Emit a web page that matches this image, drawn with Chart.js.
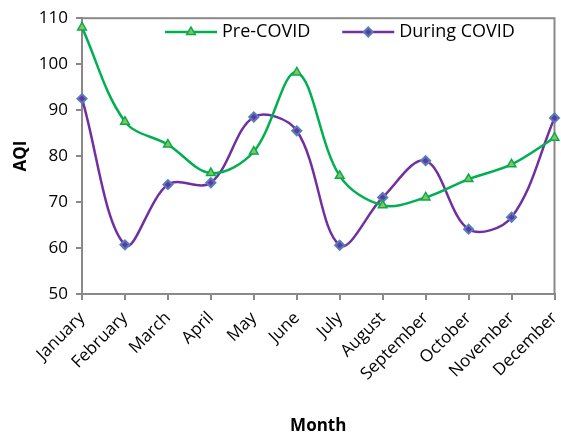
<!DOCTYPE html>
<html>
<head>
<meta charset="utf-8">
<script src="https://cdn.jsdelivr.net/npm/chart.js@4/dist/chart.umd.min.js"></script>
<style>
  html, body { margin: 0; padding: 0; background: #fff; }
  #wrap { width: 561px; height: 436px; position: relative; }
</style>
</head>
<body>
<div id="wrap"><canvas id="aqiChart"></canvas></div>
<script>
const months = ["January", "February", "March", "April", "May", "June",
  "July", "August", "September", "October", "November", "December"];
const preCovid = [108, 87.5, 82.5, 76.3, 81, 98.2, 75.7, 69.3, 71, 75, 78.2, 84];
const duringCovid = [92.5, 60.7, 73.8, 74.2, 88.5, 85.5, 60.6, 71, 79, 64.1, 66.7, 88.3];
const yTicks = [50, 60, 70, 80, 90, 100, 110];

const FONT = '"Open Sans", sans-serif';
const axisGray = "#898989";

// box round the plot area (top + right edges)
const plotBorder = {
  id: "plotBorder",
  beforeDatasetsDraw(chart) {
    const { ctx, chartArea: a } = chart;
    ctx.save();
    ctx.strokeStyle = axisGray;
    ctx.lineWidth = 2;
    ctx.strokeRect(a.left, a.top, a.right - a.left, a.bottom - a.top);
    ctx.restore();
  }
};

// legend inside the plot, line + marker like the original
const innerLegend = {
  id: "innerLegend",
  afterDraw(chart) {
    const ctx = chart.ctx;
    const y = 32;
    let x = 165;
    chart.data.datasets.forEach(ds => {
      ctx.save();
      ctx.strokeStyle = ds.borderColor;
      ctx.lineWidth = ds.borderWidth;
      ctx.beginPath();
      ctx.moveTo(x, y);
      ctx.lineTo(x + 52, y);
      ctx.stroke();
      ctx.fillStyle = ds.pointBackgroundColor;
      ctx.strokeStyle = ds.pointBorderColor;
      ctx.lineWidth = ds.pointBorderWidth;
      Chart.helpers.drawPoint(ctx, {
        pointStyle: ds.pointStyle,
        radius: ds.pointRadius,
        borderWidth: ds.pointBorderWidth,
        rotation: 0
      }, x + 26, y);
      ctx.font = "18px " + FONT;
      ctx.textBaseline = "middle";
      ctx.fillStyle = "#000";
      ctx.fillText(ds.label, x + 57, y);
      x += 57 + ctx.measureText(ds.label).width + 32;
      ctx.restore();
    });
  }
};

new Chart(document.getElementById("aqiChart"), {
  type: "line",
  data: {
    labels: months,
    datasets: [
      {
        label: "Pre-COVID",
        data: preCovid,
        borderColor: "#00B050",
        borderWidth: 2.5,
        tension: 0.35,
        pointStyle: "triangle",
        pointRadius: 5,
        pointBackgroundColor: "#9BBB59",
        pointBorderColor: "#00B050",
        pointBorderWidth: 1.5
      },
      {
        label: "During COVID",
        data: duringCovid,
        borderColor: "#7030A0",
        borderWidth: 2.5,
        tension: 0.35,
        pointStyle: "rectRot",
        pointRadius: 4.5,
        pointBackgroundColor: "#7030A0",
        pointBorderColor: "#4F81BD",
        pointBorderWidth: 2
      }
    ]
  },
  options: {
    responsive: true,
    maintainAspectRatio: false,
    animation: false,
    layout: { padding: { top: 17, right: 1, left: 0, bottom: 0 } },
    plugins: {
      legend: { display: false },
      tooltip: { enabled: false }
    },
    scales: {
      x: {
        offset: false,
        grid: { drawOnChartArea: false, drawTicks: true, tickLength: 6, color: axisGray, lineWidth: 2 },
        border: { color: axisGray, width: 2 },
        ticks: {
          color: "#000",
          font: { family: FONT, size: 17 },
          minRotation: 45,
          maxRotation: 45,
          autoSkip: false,
          padding: 8
        },
        title: {
          display: true,
          text: "Month",
          color: "#000",
          font: { family: FONT, size: 17, weight: "bold" },
          padding: { top: 0, bottom: 0 }
        },
        afterFit(scale) {
          scale.height = 142;
          scale.paddingLeft = 0;
          scale.paddingRight = 0;
        }
      },
      y: {
        min: 50,
        max: 110,
        afterBuildTicks(scale) { scale.ticks = yTicks.map(v => ({ value: v })); },
        grid: { drawOnChartArea: false, drawTicks: true, tickLength: 6, color: axisGray, lineWidth: 2 },
        border: { color: axisGray, width: 2 },
        ticks: {
          color: "#000",
          font: { family: FONT, size: 17 },
          padding: 8
        },
        title: {
          display: true,
          text: "AQI",
          color: "#000",
          font: { family: FONT, size: 17, weight: "bold" },
          padding: { top: 11, bottom: 0 }
        },
        afterFit(scale) { scale.width = 82; }
      }
    }
  },
  plugins: [plotBorder, innerLegend]
});
</script>
</body>
</html>
